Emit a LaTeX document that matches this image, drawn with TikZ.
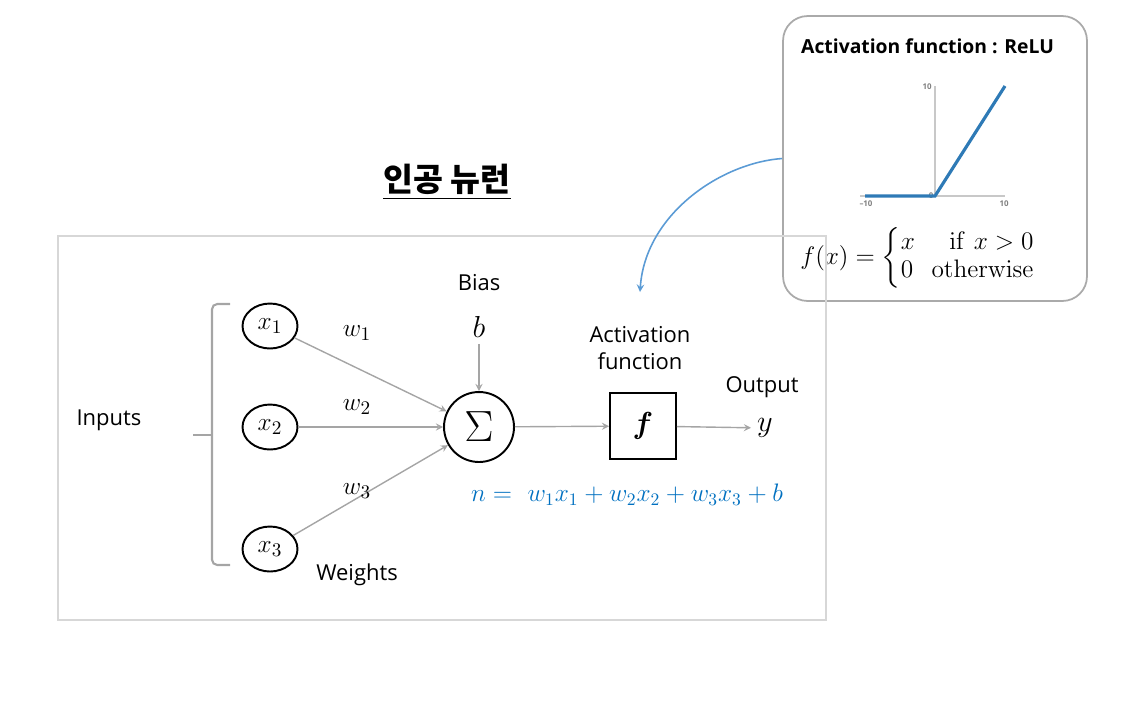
\documentclass[tikz,border=0pt]{standalone}
\usepackage{amsmath}
\usepackage[no-math]{fontspec}
\setsansfont{Open Sans}
\newfontfamily\krfont{Noto Sans CJK KR}
\usetikzlibrary{shapes.geometric}
\definecolor{eqblue}{RGB}{0,112,192}
\definecolor{curveblue}{RGB}{91,155,213}
\definecolor{relublue}{RGB}{46,122,182}
\definecolor{linkgray}{RGB}{165,165,165}
\definecolor{framegray}{RGB}{215,215,215}
\definecolor{boxgray}{RGB}{170,170,170}
\definecolor{axisgray}{RGB}{200,200,200}

\begin{document}
\begin{tikzpicture}[x=0.02cm,y=-0.02cm,>=stealth,
	neuron/.style={draw,line width=1.1pt,ellipse,minimum width=1.1cm,minimum height=0.9cm,inner sep=0pt},
	link/.style={draw=linkgray,line width=0.8pt,->},
	lbl/.style={font=\sffamily\fontsize{12.5}{15}\selectfont},
	mlbl/.style={font=\fontsize{15.5}{17}\selectfont},
	tick/.style={font=\sffamily\bfseries\fontsize{4.5}{5}\selectfont,text=gray}]
	\useasboundingbox (0,0) rectangle (1124,704);
	% activation function panel
	\node[draw=boxgray,line width=1pt,rounded corners=14pt,minimum width=6.08cm,minimum height=5.7cm] (relubox) at (935,158.5) {};
	\node[font=\sffamily\bfseries\fontsize{11}{13}\selectfont,anchor=west] (relutitle) at (795,46) {Activation function : ReLU};
	\draw[axisgray,line width=0.6pt] (860,196) -- (1005,196);
	\draw[axisgray,line width=0.6pt] (935,196) -- (935,86);
	\node[tick] (t1) at (927,87) {10};
	\node[tick] (t2) at (866,204) {–10};
	\node[tick] (t3) at (931,196) {0};
	\node[tick] (t4) at (1004,204) {10};
	\draw[relublue,line width=1.8pt] (865,196) -- (935,196) -- (1005,86);
	\node[font=\fontsize{14.5}{16}\selectfont] (relufn) at (918,258) {$f(x) = \left\{\begin{array}{@{}l@{\ \ }r@{}} x & \mathrm{if}\ x>0\\ 0 & \mathrm{otherwise}\end{array}\right.$};
	% neuron
	\draw[framegray,line width=0.6pt] (58,236) rectangle (826,620);
	\node[font=\krfont\bfseries\fontsize{18.5}{21}\selectfont] (title) at (447,182) {\underline{인공 뉴런}};
	\foreach \i/\y in {1/326,2/427,3/549}{
		\node[neuron,mlbl] (x\i) at (270,\y) {$x_{\i}$};
	}
	\node[draw,line width=1.1pt,circle,minimum size=1.4cm,inner sep=0pt] (sum) at (479,427) {\fontsize{24}{24}\selectfont$\Sigma$};
	\foreach \i in {1,2,3}
		\draw[link] (x\i) -- (sum);
	\node[mlbl] (w1) at (357,333) {$w_1$};
	\node[mlbl] (w2) at (357,407) {$w_2$};
	\node[mlbl] (w3) at (357,491) {$w_3$};
	\node[lbl] (weights) at (357,575) {Weights};
	\node[lbl] (inputs) at (109,420) {Inputs};
	\draw[linkgray,line width=1.2pt,rounded corners=3pt] (230,304) -- (212,304) -- (212,565) -- (230,565);
	\draw[linkgray,line width=1.2pt] (212,435) -- (193,435);
	\node[lbl] (biaslbl) at (479,283) {Bias};
	\node[mlbl,font=\fontsize{17}{18}\selectfont] (bias) at (479,327) {$b$};
	\draw[link] (bias) -- (sum);
	\node[lbl,align=center] (actlbl) at (640,348) {Activation\\function};
	\node[draw,line width=1.1pt,minimum size=1.32cm] (act) at (643,426) {\fontsize{16}{16}\selectfont$\boldsymbol{f}$};
	\draw[link] (sum) -- (act);
	\node[lbl] (outlbl) at (762,387) {Output};
	\node[mlbl,font=\fontsize{17}{18}\selectfont] (out) at (765,428) {$y$};
	\draw[link] (act) -- (out);
	\node[mlbl,font=\fontsize{14.5}{16}\selectfont,text=eqblue] (eqn) at (627,495) {$n =\ w_1x_1+w_2x_2+w_3x_3+b$};
	% curve to the activation box
	\coordinate (actin) at (640,292);
	\draw[curveblue,line width=0.9pt,->] (relubox.west) .. controls (720,163) and (645,215) .. (actin);
\end{tikzpicture}
\end{document}
